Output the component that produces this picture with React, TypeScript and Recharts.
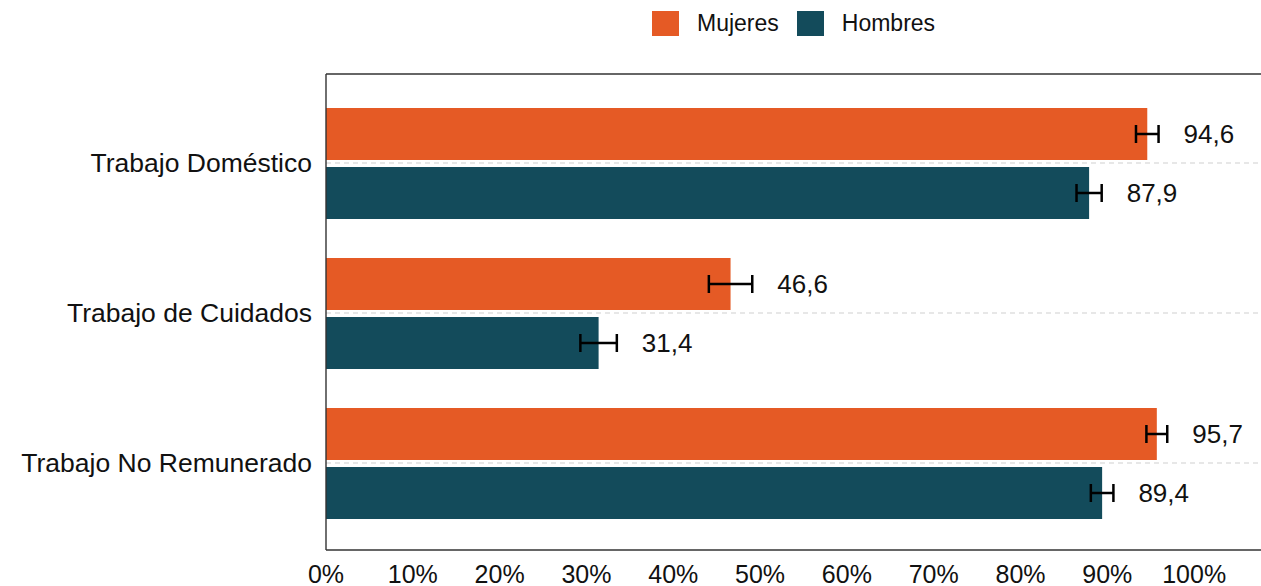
import React from 'react'
import {
  BarChart, Bar, XAxis, YAxis, CartesianGrid, ErrorBar, LabelList, Legend,
} from 'recharts'

const CATEGORIES = ['Trabajo Doméstico', 'Trabajo de Cuidados', 'Trabajo No Remunerado']
const MUJERES = [94.6, 46.6, 95.7]
const HOMBRES = [87.9, 31.4, 89.4]
const ERR_MUJERES = [1.3, 2.5, 1.2]
const ERR_HOMBRES = [1.45, 2.1, 1.3]
const X_TICKS = [0, 10, 20, 30, 40, 50, 60, 70, 80, 90, 100]
const SERIES_ORDER = ['Mujeres', 'Hombres']

const ORANGE = '#E55A25'
const TEAL = '#134B5B'
const FONT = '"Liberation Sans", Arial, sans-serif'
const PAD_TOP = 14
const PAD_BOTTOM = 12

const data = CATEGORIES.map((cat, i) => ({
  cat,
  mujeres: MUJERES[i],
  hombres: HOMBRES[i],
  errM: ERR_MUJERES[i],
  errH: ERR_HOMBRES[i],
}))

// etiqueta a la derecha de la barra de error
function makeLabel(errs: number[]) {
  return (props: any) => {
    const { x, y, width, height, value, index } = props
    const pxPerUnit = width / value
    const tx = x + width + errs[index] * pxPerUnit + 25
    return (
      <text x={tx} y={y + height / 2} dy="0.36em" fontSize={26} fill="#111" fontFamily={FONT}>
        {Number(value).toFixed(1).replace('.', ',')}
      </text>
    )
  }
}

function LegendBox(props: any) {
  const payload = [...(props.payload || [])].sort(
    (a: any, b: any) => SERIES_ORDER.indexOf(a.value) - SERIES_ORDER.indexOf(b.value)
  )
  return (
    <div style={{ display: 'flex', alignItems: 'center', fontFamily: FONT, fontSize: 23, color: '#111' }}>
      {payload.map((p: any) => (
        <div key={p.value} style={{ display: 'flex', alignItems: 'center', marginRight: 18 }}>
          <span style={{ width: 27, height: 25, background: p.color, display: 'inline-block', marginRight: 18 }} />
          <span>{p.value}</span>
        </div>
      ))}
    </div>
  )
}

// lineas discontinuas solo en el centro de cada categoria (banda del eje Y)
function gridRows(props: any) {
  const { offset } = props
  const band = (offset.height - PAD_TOP - PAD_BOTTOM) / CATEGORIES.length
  return CATEGORIES.map((_, i) => offset.top + PAD_TOP + band * (i + 0.5))
}

export default function App() {
  return (
    <div style={{ position: 'absolute', left: 0, top: 0, fontFamily: FONT }}>
      <BarChart
        width={1261}
        height={586}
        data={data}
        layout="vertical"
        margin={{ top: 73, right: 0, bottom: 0, left: 0 }}
        barSize={52}
        barGap={7}
      >
        <CartesianGrid
          horizontal
          vertical={false}
          stroke="#cfcfcf"
          strokeDasharray="5 4"
          horizontalCoordinatesGenerator={gridRows}
        />
        <XAxis
          type="number"
          domain={[0, 107.7]}
          ticks={X_TICKS}
          allowDataOverflow
          tickFormatter={(v: number) => `${v}%`}
          tick={{ fontSize: 25, fill: '#111', fontFamily: FONT }}
          tickLine={false}
          tickSize={0}
          tickMargin={15}
          height={36}
          axisLine={{ stroke: '#333', strokeWidth: 1.4 }}
        />
        <XAxis
          xAxisId="top"
          orientation="top"
          type="number"
          domain={[0, 107.7]}
          ticks={[]}
          tick={false}
          tickLine={false}
          height={1}
          axisLine={{ stroke: '#333', strokeWidth: 1.4 }}
        />
        <YAxis
          type="category"
          dataKey="cat"
          width={326}
          tickLine={false}
          tickSize={0}
          tickMargin={14}
          padding={{ top: PAD_TOP, bottom: PAD_BOTTOM }}
          tick={{ fontSize: 26.5, fill: '#111', fontFamily: FONT }}
          axisLine={{ stroke: '#333', strokeWidth: 1.4 }}
        />
        <Legend
          layout="horizontal"
          verticalAlign="middle"
          align="center"
          wrapperStyle={{ top: 10, left: 652, width: 'auto' }}
          content={<LegendBox />}
        />
        <Bar dataKey="mujeres" name="Mujeres" fill={ORANGE} isAnimationActive={false}>
          <ErrorBar dataKey="errM" direction="x" width={9} stroke="#000" strokeWidth={2.5} />
          <LabelList dataKey="mujeres" content={makeLabel(ERR_MUJERES)} />
        </Bar>
        <Bar dataKey="hombres" name="Hombres" fill={TEAL} isAnimationActive={false}>
          <ErrorBar dataKey="errH" direction="x" width={9} stroke="#000" strokeWidth={2.5} />
          <LabelList dataKey="hombres" content={makeLabel(ERR_HOMBRES)} />
        </Bar>
      </BarChart>
    </div>
  )
}
